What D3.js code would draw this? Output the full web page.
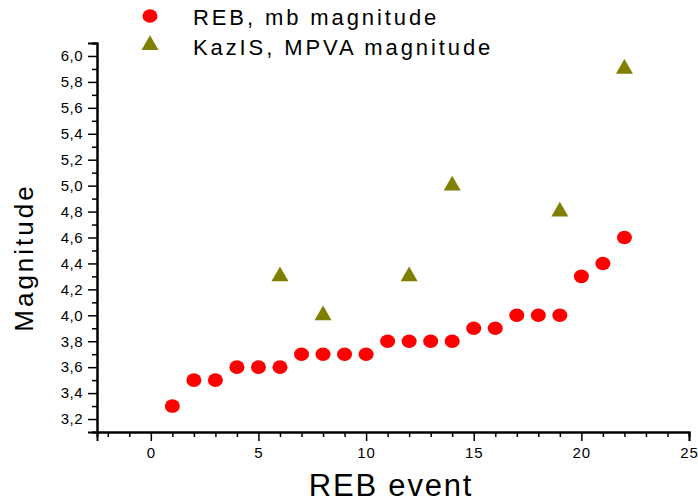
<!DOCTYPE html>
<html>
<head>
<meta charset="utf-8">
<script src="https://cdn.jsdelivr.net/npm/d3@7"></script>
<style>
  html, body { margin: 0; padding: 0; background: #fff; }
  svg { display: block; font-family: "Liberation Sans", Arial, sans-serif; }
</style>
</head>
<body>
<svg id="chart" width="698" height="504"></svg>
<script>
// REB events (event index) with their mb magnitude
const rebEvents = [1, 2, 3, 4, 5, 6, 7, 8, 9, 10, 11, 12, 13, 14, 15, 16, 17, 18, 19, 20, 21, 22];
const rebMb     = [3.3, 3.5, 3.5, 3.6, 3.6, 3.6, 3.7, 3.7, 3.7, 3.7, 3.8, 3.8, 3.8, 3.8, 3.9, 3.9, 4.0, 4.0, 4.0, 4.3, 4.4, 4.6];
// Events also located by KazIS, with MPVA magnitude
const kazEvents = [6, 8, 12, 14, 19, 22];
const kazMpva   = [4.3, 4.0, 4.3, 5.0, 4.8, 5.9];
// Axis ticks
const xTicks = [0, 5, 10, 15, 20, 25];
const yTicks = [3.2, 3.4, 3.6, 3.8, 4.0, 4.2, 4.4, 4.6, 4.8, 5.0, 5.2, 5.4, 5.6, 5.8, 6.0];
const seriesNames = ["REB, mb magnitude", "KazIS, MPVA magnitude"];

const svg = d3.select("#chart");
const plotL = 97, plotR = 689, plotT = 43, plotB = 432;

const x = d3.scaleLinear().domain([-2.5, 25]).range([plotL, plotR]);
const y = d3.scaleLinear().domain([3.1, 6.1]).range([plotB, plotT]);

const fmt = d => d3.format(".1f")(d).replace(".", ",");

// minor ticks
const xMinor = d3.range(-2, 26, 1).filter(v => v % 5 !== 0);
const yMinor = d3.range(3.1, 6.15, 0.2).map(v => +v.toFixed(1));

const gx = svg.append("g").attr("transform", `translate(0,${plotB})`);
gx.call(d3.axisBottom(x).tickValues(xMinor).tickSize(5).tickFormat(""));
gx.call(g => g.append("g").call(d3.axisBottom(x).tickValues(xTicks).tickSize(9).tickPadding(6)));
gx.selectAll(".domain").attr("stroke", "#000").attr("stroke-width", 2);
gx.selectAll(".tick line").attr("stroke", "#000").attr("stroke-width", 1.5);
gx.selectAll(".tick text").attr("font-size", 15).attr("fill", "#000")
  .attr("font-family", "Liberation Sans, Arial, sans-serif").style("letter-spacing", "1px");

const gy = svg.append("g").attr("transform", `translate(${plotL},0)`);
gy.call(d3.axisLeft(y).tickValues(yMinor).tickSize(5).tickFormat(""));
gy.call(g => g.append("g").call(d3.axisLeft(y).tickValues(yTicks).tickSize(9).tickPadding(5).tickFormat(fmt)));
gy.selectAll(".domain").attr("stroke", "#000").attr("stroke-width", 2);
gy.selectAll(".tick line").attr("stroke", "#000").attr("stroke-width", 1.5);
gy.selectAll(".tick text").attr("font-size", 15).attr("fill", "#000")
  .attr("font-family", "Liberation Sans, Arial, sans-serif").style("letter-spacing", "0.5px");

// axis titles
svg.append("text")
  .attr("x", (plotL + plotR) / 2 - 2).attr("y", 496)
  .attr("text-anchor", "middle").attr("font-size", 31).style("letter-spacing", "1.8px")
  .text("REB event");
svg.append("text")
  .attr("transform", `translate(33,${(plotT + plotB) / 2 + 20}) rotate(-90)`)
  .attr("text-anchor", "middle").attr("font-size", 26).style("letter-spacing", "3px")
  .text("Magnitude");

// REB mb magnitude points
svg.append("g").selectAll("ellipse")
  .data(rebEvents.map((e, i) => ({ e, m: rebMb[i] })))
  .join("ellipse")
  .attr("cx", d => x(d.e)).attr("cy", d => y(d.m))
  .attr("rx", 7.5).attr("ry", 6.8)
  .attr("fill", "#ff0000");

// KazIS MPVA magnitude points
const tri = d3.symbol().type(d3.symbolTriangle).size(125);
svg.append("g").selectAll("path")
  .data(kazEvents.map((e, i) => ({ e, m: kazMpva[i] })))
  .join("path")
  .attr("d", tri)
  .attr("transform", d => `translate(${x(d.e)},${y(d.m)})`)
  .attr("fill", "#808000");

// legend
const legend = svg.append("g");
legend.append("ellipse").attr("cx", 150).attr("cy", 16).attr("rx", 7.5).attr("ry", 6.8).attr("fill", "#ff0000");
legend.append("path").attr("d", tri).attr("transform", "translate(150,45)").attr("fill", "#808000");
legend.selectAll("text").data(seriesNames).join("text")
  .attr("x", 193).attr("y", (d, i) => 25 + i * 30)
  .attr("font-size", 22).style("letter-spacing", "2.9px")
  .text(d => d);
</script>
</body>
</html>
